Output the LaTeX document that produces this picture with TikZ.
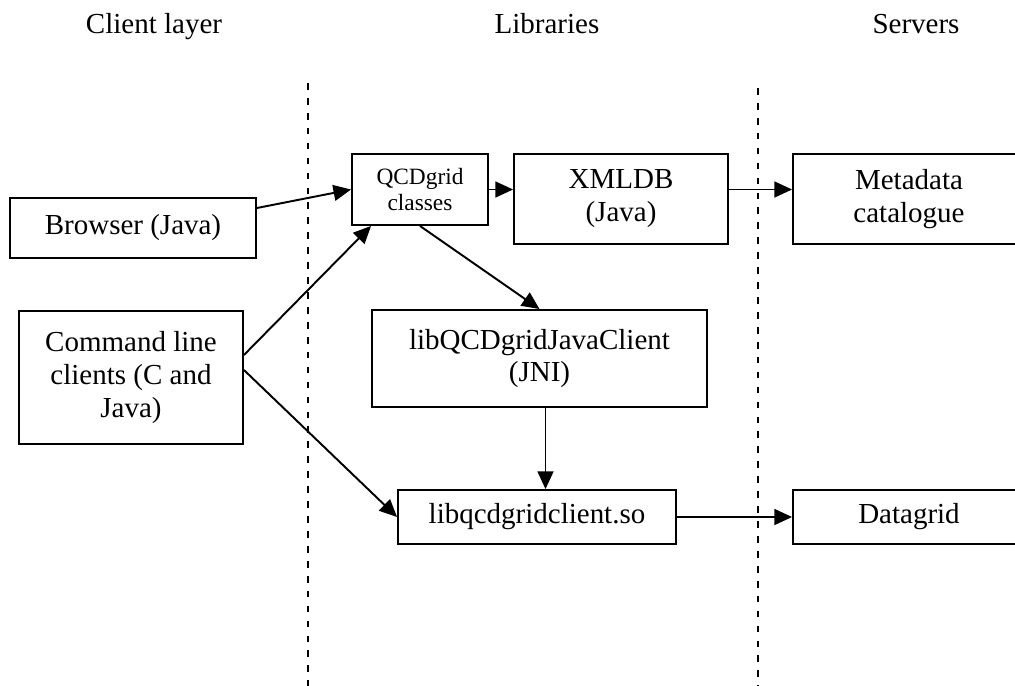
\documentclass[tikz,border=0pt]{standalone}
\usepackage{fontspec}
\setmainfont{Liberation Serif}
\usetikzlibrary{arrows.meta}
\newcommand{\layerfont}{\fontsize{16.5}{18.7}\selectfont}
\newcommand{\smallboxfont}{\fontsize{13.3}{15}\selectfont}

\begin{document}
\begin{tikzpicture}[x=0.02cm,y=-0.02cm,
  box/.style={draw, rectangle, line width=1.1pt, inner sep=0pt, align=center, font=\layerfont},
  link/.style={->,>={Triangle[length=10pt,width=9pt]},line width=1.1pt},
  divider/.style={line width=1.3pt,dash pattern=on 3.8pt off 4.7pt}]
\useasboundingbox (0,0) rectangle (1015,686);
\node[font=\layerfont, anchor=base] (client) at (154,34) {Client layer};
\node[font=\layerfont, anchor=base] (libs) at (547,34) {Libraries};
\node[font=\layerfont, anchor=base] (servers) at (916,34) {Servers};
\draw[divider] (308,83) -- (308,686);
\draw[divider] (758,88) -- (758,686);
\node[box, minimum width=4.92cm, minimum height=1.2cm] (browser) at (133,228) {Browser (Java)};
\node[box, minimum width=4.48cm, minimum height=2.66cm] (cmd) at (131,377.5) {Command line\\clients (C and\\Java)};
\node[box, font=\smallboxfont, minimum width=2.72cm, minimum height=1.42cm] (qcd) at (420,189.5) {QCDgrid\\classes};
\node[box, minimum width=4.28cm, minimum height=1.8cm] (xmldb) at (621,199) {XMLDB\\(Java)};
\node[box, minimum width=4.64cm, minimum height=1.8cm] (meta) at (909,199) {Metadata\\catalogue};
\node[box, minimum width=6.7cm, minimum height=1.94cm] (jni) at (539.5,358.5) {libQCDgridJavaClient\\(JNI)};
\node[box, minimum width=5.56cm, minimum height=1.08cm] (so) at (537,517) {libqcdgridclient.so};
\node[box, minimum width=4.64cm, minimum height=1.08cm] (grid) at (909,517) {Datagrid};
\draw[link] ([yshift=0.4cm]browser.east) -- (qcd.west);
\draw[link] ([yshift=0.45cm]cmd.east) -- ([xshift=0.4cm]qcd.south west);
\draw[link] ([yshift=0.15cm]cmd.east) -- (so.west);
\draw[link] (qcd.east) -- (qcd.east -| xmldb.west);
\draw[link] (qcd.south) -- (jni.north);
\draw[link] (qcd.east -| xmldb.east) -- (qcd.east -| meta.west);
\draw[link] ([xshift=0.12cm]jni.south) -- ([xshift=0.12cm]jni.south |- so.north);
\draw[link] (so.east) -- (grid.west);
\end{tikzpicture}
\end{document}
